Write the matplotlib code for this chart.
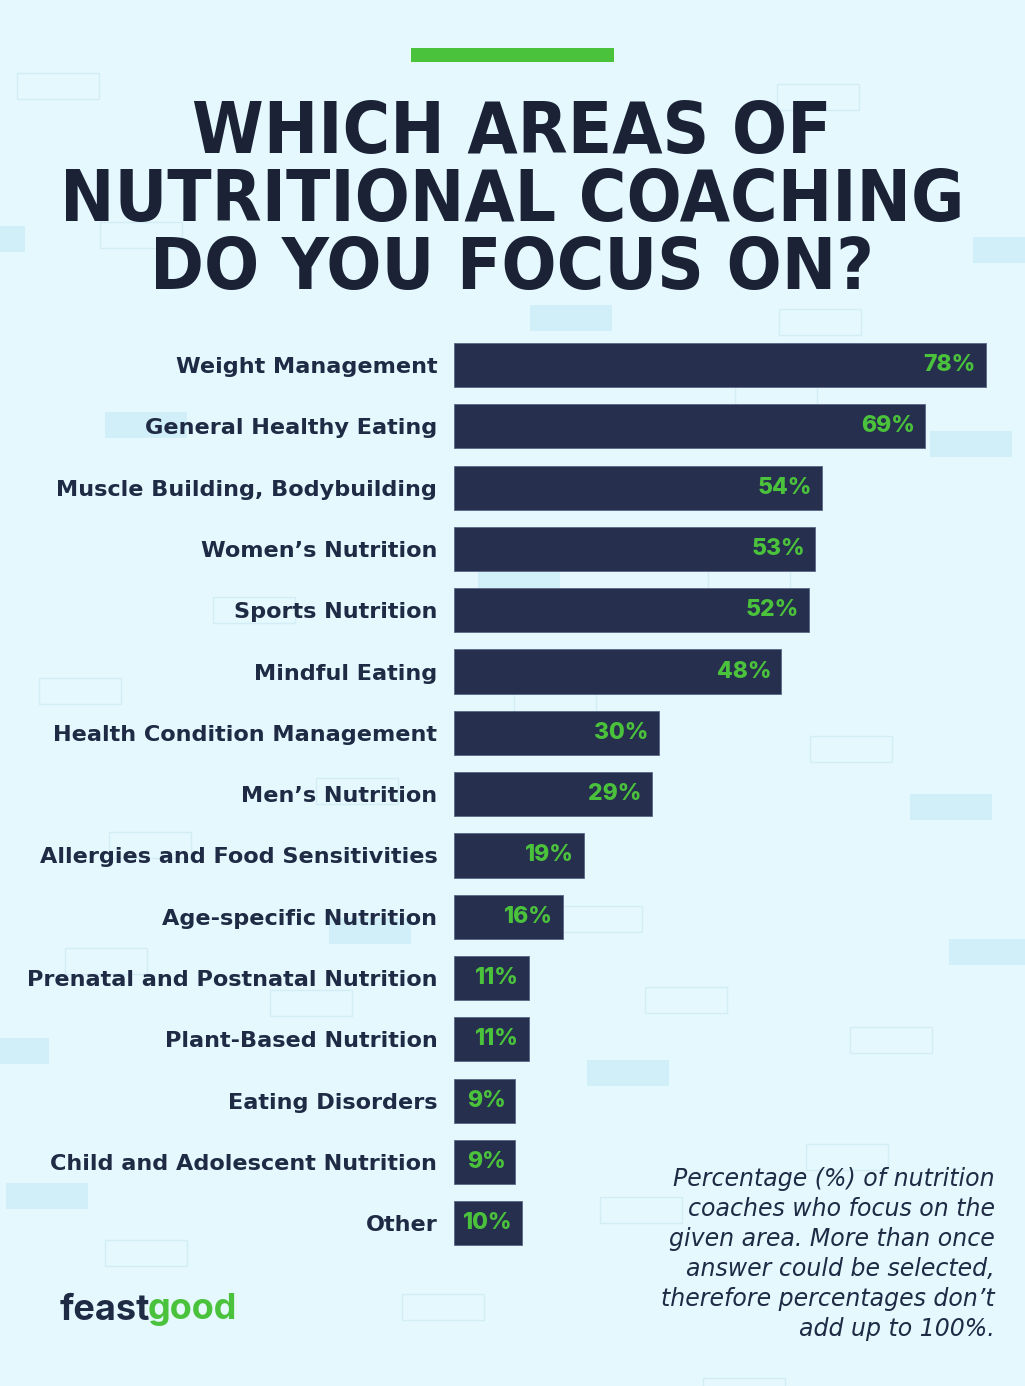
"""
Which areas of nutritional coaching do you focus on? - horizontal bar infographic
"""

import matplotlib
matplotlib.use("Agg")
import matplotlib.pyplot as plt
from matplotlib.patches import Rectangle

# Données
categories = [
    "Weight Management",
    "General Healthy Eating",
    "Muscle Building, Bodybuilding",
    "Women\u2019s Nutrition",
    "Sports Nutrition",
    "Mindful Eating",
    "Health Condition Management",
    "Men\u2019s Nutrition",
    "Allergies and Food Sensitivities",
    "Age-specific Nutrition",
    "Prenatal and Postnatal Nutrition",
    "Plant-Based Nutrition",
    "Eating Disorders",
    "Child and Adolescent Nutrition",
    "Other",
]
values = [78, 69, 54, 53, 52, 48, 30, 29, 19, 16, 11, 11, 9, 9, 10]

title_lines = ["WHICH AREAS OF", "NUTRITIONAL COACHING", "DO YOU FOCUS ON?"]
note_lines = [
    "Percentage (%) of nutrition",
    "coaches who focus on the",
    "given area. More than once",
    "answer could be selected,",
    "therefore percentages don\u2019t",
    "add up to 100%.",
]

# Couleurs
BG = "#E4F8FE"
NAVY = "#262F4D"
DARK = "#1B2236"
TEXT = "#1F2A44"
GREEN = "#4BC23C"
DECO_FILL = "#D0EFF9"
DECO_EDGE = "#D3EDF5"

W, H = 1025, 1386
fig = plt.figure(figsize=(W / 100, H / 100), dpi=100)
fig.patch.set_facecolor(BG)

# Fond décoratif (coordonnées en pixels)
bg = fig.add_axes([0, 0, 1, 1])
bg.set_xlim(0, W)
bg.set_ylim(H, 0)
bg.axis("off")

filled = [(0, 226, 25), (530, 305, 82), (973, 237, 52), (105, 412, 82),
          (930, 431, 82), (478, 568, 82), (910, 794, 82), (329, 918, 82),
          (949, 939, 76), (0, 1038, 49), (587, 1060, 82), (6, 1183, 82)]
outlined = [(17, 73), (777, 84), (100, 222), (779, 309), (735, 386),
            (708, 567), (213, 597), (39, 678), (514, 690), (810, 736),
            (316, 778), (109, 832), (560, 906), (65, 948), (270, 990),
            (645, 987), (850, 1027), (806, 1144), (600, 1197), (105, 1240),
            (402, 1294), (703, 1378)]
for x, y, w in filled:
    bg.add_patch(Rectangle((x, y), w, 26, facecolor=DECO_FILL, edgecolor="none"))
for x, y in outlined:
    bg.add_patch(Rectangle((x, y), 82, 26, facecolor="none",
                           edgecolor=DECO_EDGE, linewidth=1))

# Barre verte du haut
bg.add_patch(Rectangle((411, 48), 203, 14, facecolor=GREEN, edgecolor="none"))

# Titre
for i, line in enumerate(title_lines):
    fig.text(512 / W, 1 - (126 + i * 68) / H, line, ha="center",
             va="center_baseline", fontsize=52, fontweight="heavy", color=DARK,
             family=["DejaVu Sans"], fontstretch="condensed")

# Graphique en barres
ax_left, ax_top, ax_w = 454, 334.4, 560
n = len(categories)
ax_h = n * 61.3
ax = fig.add_axes([ax_left / W, 1 - (ax_top + ax_h) / H, ax_w / W, ax_h / H])
ax.set_facecolor("none")
px_per_pct = 532 / 78
ax.set_xlim(0, ax_w / px_per_pct)
ax.set_ylim(n - 0.5, -0.5)

ypos = list(range(n))
ax.barh(ypos, values, height=0.72, color=NAVY, edgecolor="#5A6685",
        linewidth=0.6)

for y, v in zip(ypos, values):
    ax.annotate(f"{v}%", xy=(v, y), xytext=(-10, 0), textcoords="offset pixels",
                ha="right", va="center", fontsize=16.5, fontweight="heavy",
                color=GREEN, family=["Inter", "DejaVu Sans"])

ax.set_yticks(ypos)
ax.set_yticklabels(categories, fontsize=16.1, fontweight="bold", color=TEXT,
                   family=["DejaVu Sans"])
ax.tick_params(axis="y", length=0, pad=12)
ax.set_xticks([])
for s in ax.spines.values():
    s.set_visible(False)

# Note
for i, line in enumerate(note_lines):
    fig.text(995 / W, 1 - (1179 + i * 30) / H, line, ha="right", va="center",
             fontsize=17, fontstyle="italic", color=TEXT,
             family=["DejaVu Sans"])

# Logo
fig.text(60 / W, 1 - 1310 / H, "feast", ha="left", va="center", fontsize=26,
         fontweight="bold", color=TEXT, family=["Inter", "DejaVu Sans"])
fig.text(148 / W, 1 - 1310 / H, "good", ha="left", va="center", fontsize=26,
         fontweight="bold", color=GREEN, family=["Inter", "DejaVu Sans"])

plt.savefig("out.png", dpi=100, facecolor=BG)
